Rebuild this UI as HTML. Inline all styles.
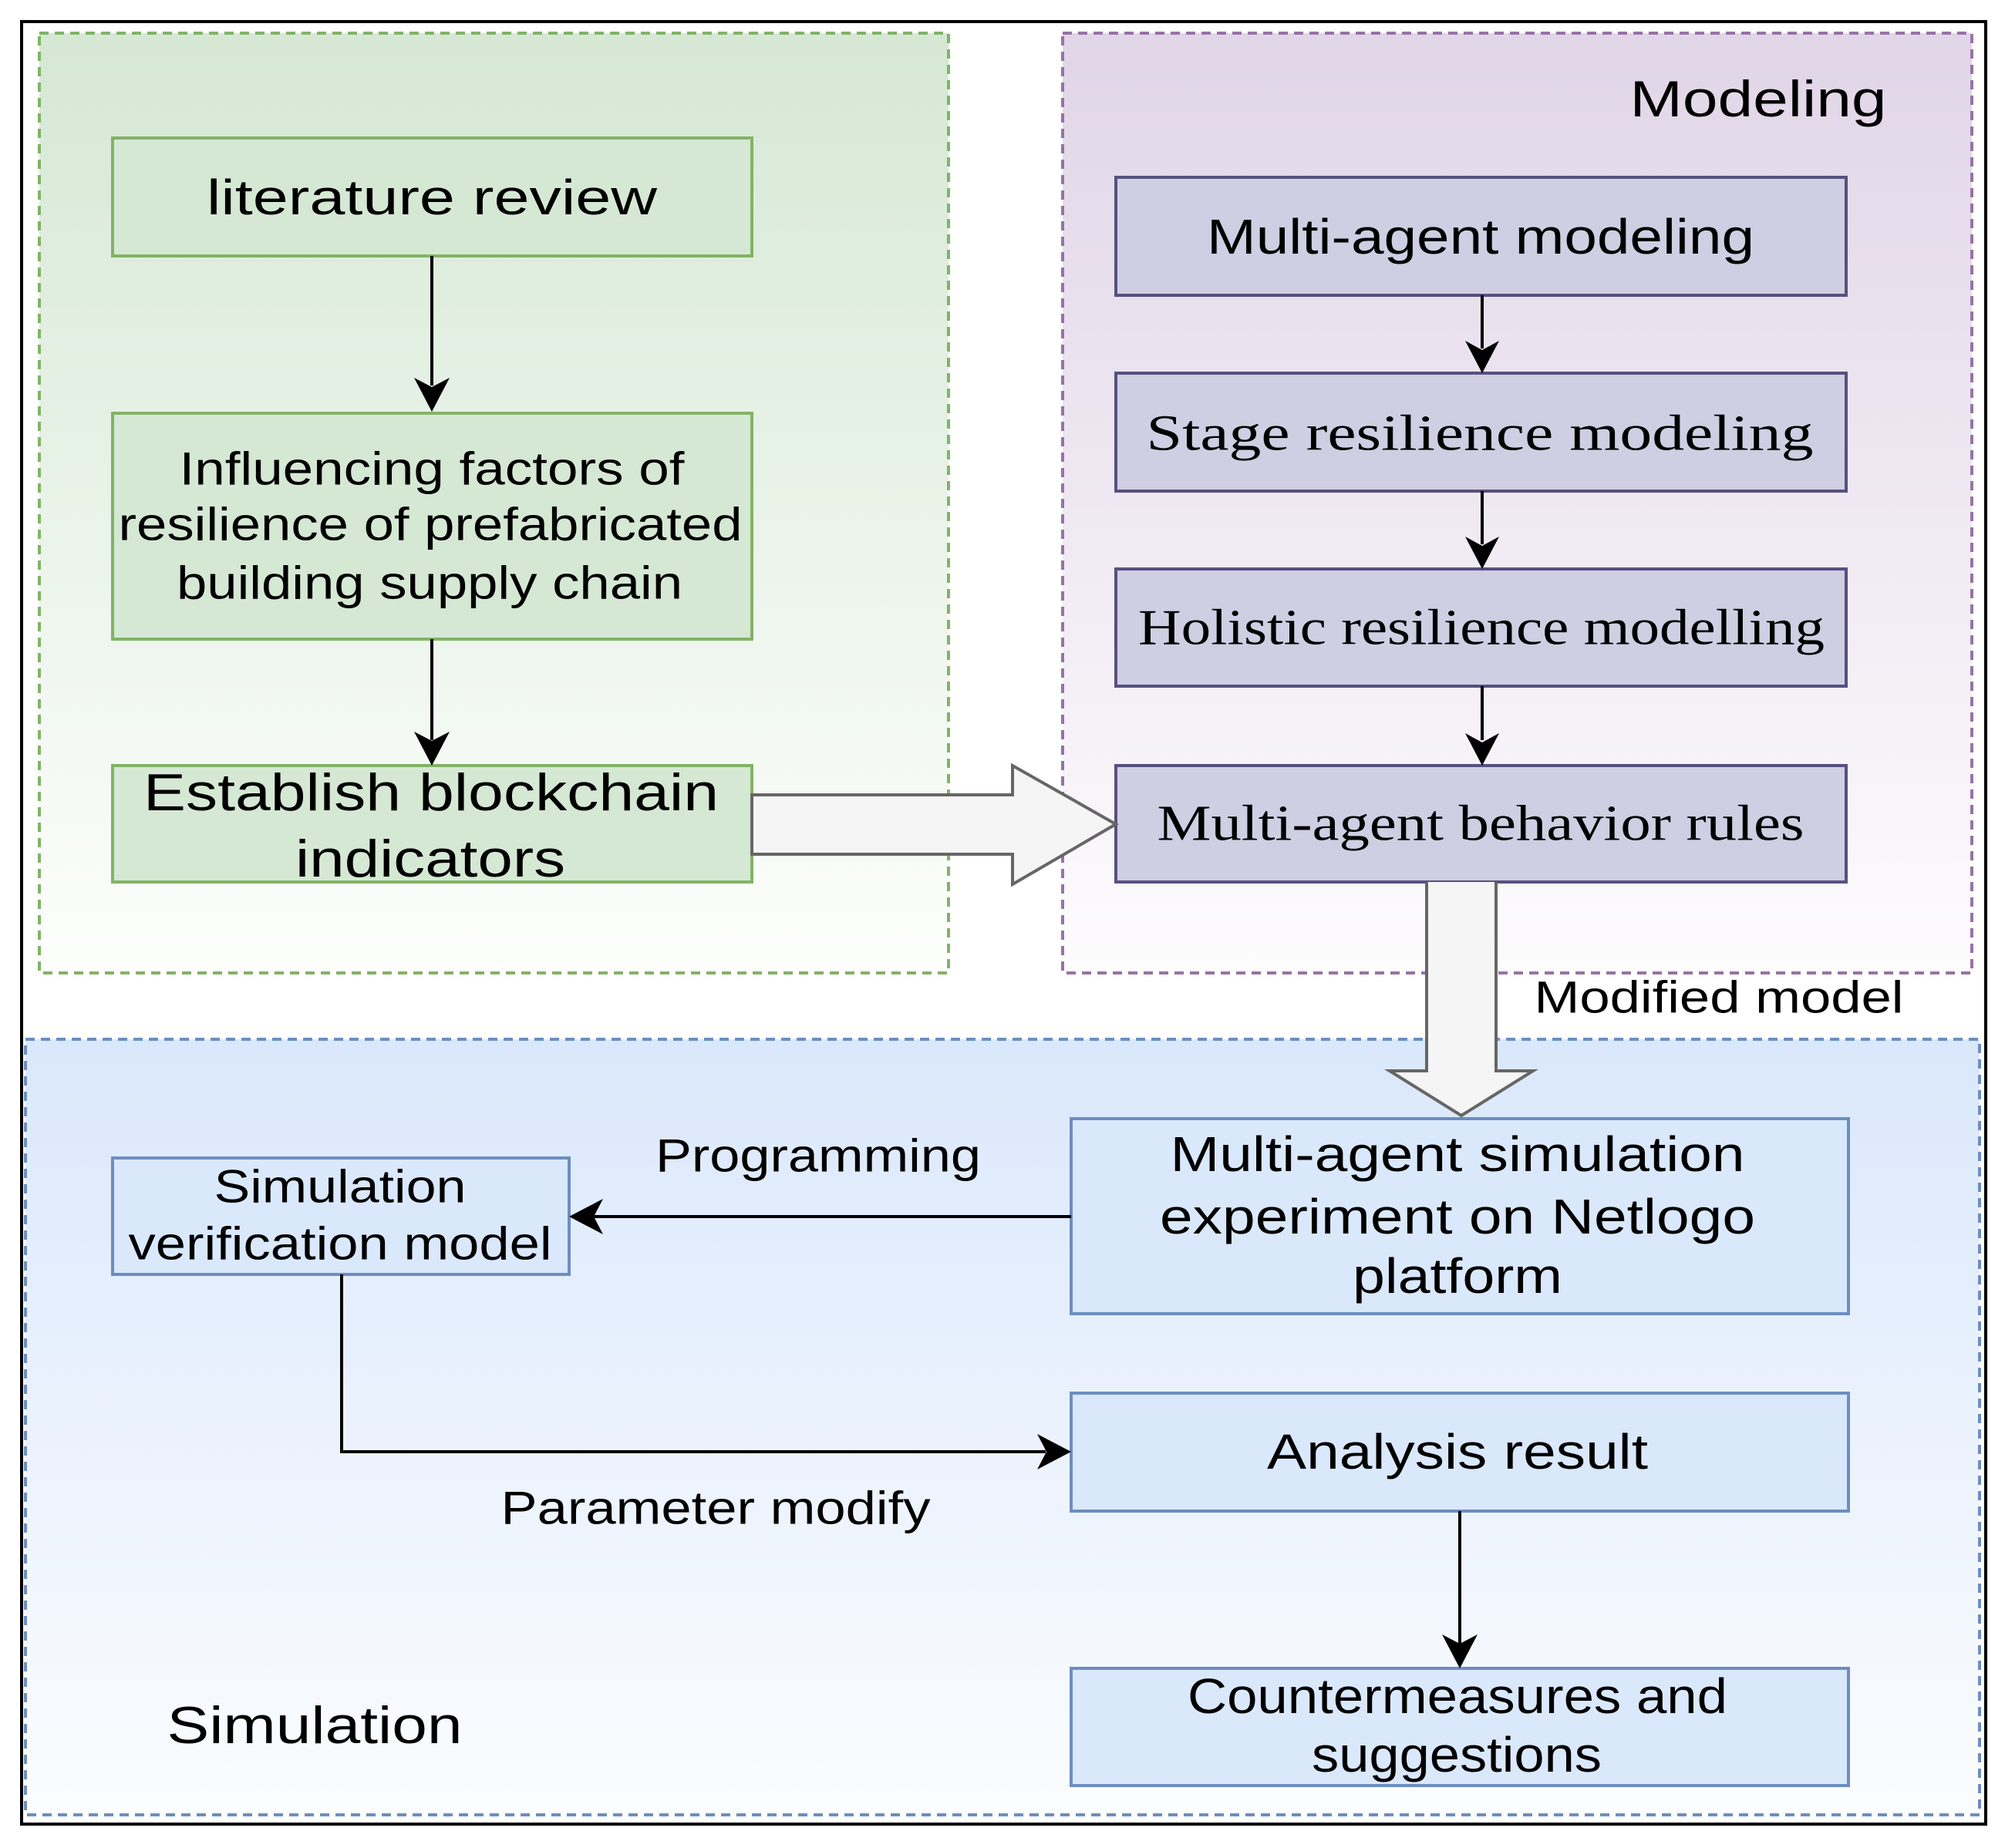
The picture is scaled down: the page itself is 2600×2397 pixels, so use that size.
<!DOCTYPE html>
<html><head><meta charset="utf-8"><style>html,body{margin:0;padding:0;background:#fff}svg{display:block}</style></head><body>
<svg width="2600" height="2397" viewBox="0 0 2600 2397" xmlns="http://www.w3.org/2000/svg">
<defs>
<linearGradient id="gg" x1="0" y1="0" x2="0" y2="1"><stop offset="0" stop-color="#d5e8d4"/><stop offset="1" stop-color="#fdfefd"/></linearGradient>
<linearGradient id="gp" x1="0" y1="0" x2="0" y2="1"><stop offset="0" stop-color="#e1d5e7"/><stop offset="1" stop-color="#fdfcfd"/></linearGradient>
<linearGradient id="gb" x1="0" y1="0" x2="0" y2="1"><stop offset="0" stop-color="#dae8fc"/><stop offset="1" stop-color="#fbfcfe"/></linearGradient>
</defs>
<rect x="0" y="0" width="2600" height="2397" fill="#fff"/>
<rect x="28" y="28" width="2547" height="2338" fill="none" stroke="#000" stroke-width="4"/>
<rect x="51" y="43" width="1179" height="1219" fill="url(#gg)" stroke="#82b366" stroke-width="4" stroke-dasharray="12,8"/>
<rect x="1378" y="43" width="1179" height="1219" fill="url(#gp)" stroke="#9673a6" stroke-width="4" stroke-dasharray="12,8"/>
<rect x="33" y="1348" width="2534" height="1006" fill="url(#gb)" stroke="#6c8ebf" stroke-width="4" stroke-dasharray="12,8"/>

<g stroke="#82b366" stroke-width="4" fill="#d5e8d4">
<rect x="146" y="179" width="829" height="153"/>
<rect x="146" y="536" width="829" height="293"/>
<rect x="146" y="993" width="829" height="151"/>
</g>
<g stroke="#56517e" stroke-width="4" fill="#d0cee2">
<rect x="1447" y="230" width="947" height="153"/>
<rect x="1447" y="484" width="947" height="153"/>
<rect x="1447" y="738" width="947" height="152"/>
<rect x="1447" y="993" width="947" height="151"/>
</g>
<g stroke="#6c8ebf" stroke-width="4" fill="#dae8fc">
<rect x="146" y="1502" width="592" height="151"/>
<rect x="1389" y="1451" width="1008" height="253"/>
<rect x="1389" y="1807" width="1008" height="153"/>
<rect x="1389" y="2164" width="1008" height="152"/>
</g>

<!-- hollow arrows -->
<path d="M975 1031 L1313 1031 L1313 993 L1447 1069 L1313 1147 L1313 1108 L975 1108 Z" fill="#f5f5f5" stroke="#666" stroke-width="4"/>
<path d="M1850 1144 L1850 1389 L1802 1389 L1895 1447 L1988 1389 L1940 1389 L1940 1144" fill="#f5f5f5" stroke="#666" stroke-width="4"/>

<!-- connectors -->
<g stroke="#000" stroke-width="4" fill="none">
<line x1="560" y1="332" x2="560" y2="500"/>
<line x1="560" y1="829" x2="560" y2="960"/>
<line x1="1922" y1="383" x2="1922" y2="452"/>
<line x1="1922" y1="637" x2="1922" y2="706"/>
<line x1="1922" y1="890" x2="1922" y2="960"/>
<line x1="1389" y1="1578" x2="770" y2="1578"/>
<polyline points="443,1653 443,1883 1356,1883"/>
<line x1="1893" y1="1960" x2="1893" y2="2132"/>
</g>
<g fill="#000">
<path d="M560 534 L537 490 L560 502 L583 490 Z"/>
<path d="M560 993 L537 949 L560 961 L583 949 Z"/>
<path d="M1922 484 L1900 442 L1922 454 L1944 442 Z"/>
<path d="M1922 738 L1900 696 L1922 708 L1944 696 Z"/>
<path d="M1922 993 L1900 951 L1922 963 L1944 951 Z"/>
<path d="M738 1578 L782 1555 L770 1578 L782 1601 Z"/>
<path d="M1389 1883 L1345 1860 L1357 1883 L1345 1906 Z"/>
<path d="M1893 2164 L1870 2120 L1893 2132 L1916 2120 Z"/>
</g>

<g font-family="Liberation Sans, Arial, sans-serif" font-size="64" fill="#000" text-anchor="middle" dominant-baseline="central">
<text x="560" y="256" textLength="584" lengthAdjust="spacingAndGlyphs">literature review</text>
<text x="560" y="608" font-size="60" textLength="655" lengthAdjust="spacingAndGlyphs">Influencing factors of</text>
<text x="558" y="680" font-size="60" textLength="809" lengthAdjust="spacingAndGlyphs">resilience of prefabricated</text>
<text x="557" y="756" font-size="60" textLength="656" lengthAdjust="spacingAndGlyphs">building supply chain</text>
<text x="559" y="1028" font-size="68" textLength="746" lengthAdjust="spacingAndGlyphs">Establish blockchain</text>
<text x="558" y="1114" font-size="68" textLength="350" lengthAdjust="spacingAndGlyphs">indicators</text>
<text x="1920" y="307" textLength="710" lengthAdjust="spacingAndGlyphs">Multi-agent modeling</text>
<text x="2280" y="128" font-size="66" textLength="333" lengthAdjust="spacingAndGlyphs">Modeling</text>
<text x="2229" y="1294" font-size="58" textLength="479" lengthAdjust="spacingAndGlyphs">Modified model</text>
<text x="441" y="1539" font-size="60" textLength="327" lengthAdjust="spacingAndGlyphs">Simulation</text>
<text x="441" y="1613" font-size="60" textLength="549" lengthAdjust="spacingAndGlyphs">verification model</text>
<text x="1890" y="1497" textLength="745" lengthAdjust="spacingAndGlyphs">Multi-agent simulation</text>
<text x="1890" y="1578" textLength="772" lengthAdjust="spacingAndGlyphs">experiment on Netlogo</text>
<text x="1890" y="1655" textLength="272" lengthAdjust="spacingAndGlyphs">platform</text>
<text x="1061" y="1499" font-size="60" textLength="422" lengthAdjust="spacingAndGlyphs">Programming</text>
<text x="1890" y="1883" textLength="494" lengthAdjust="spacingAndGlyphs">Analysis result</text>
<text x="928" y="1956" font-size="60" textLength="557" lengthAdjust="spacingAndGlyphs">Parameter modify</text>
<text x="1890" y="2200" textLength="700" lengthAdjust="spacingAndGlyphs">Countermeasures and</text>
<text x="1889" y="2276" textLength="376" lengthAdjust="spacingAndGlyphs">suggestions</text>
<text x="408" y="2238" font-size="68" textLength="383" lengthAdjust="spacingAndGlyphs">Simulation</text>
</g>
<g font-family="Liberation Serif, Times New Roman, serif" font-size="66" fill="#000" text-anchor="middle" dominant-baseline="central">
<text x="1919" y="562" textLength="865" lengthAdjust="spacingAndGlyphs">Stage resilience modeling</text>
<text x="1921" y="814" textLength="890" lengthAdjust="spacingAndGlyphs">Holistic resilience modelling</text>
<text x="1920" y="1068" textLength="839" lengthAdjust="spacingAndGlyphs">Multi-agent behavior rules</text>
</g>
</svg>
</body></html>
